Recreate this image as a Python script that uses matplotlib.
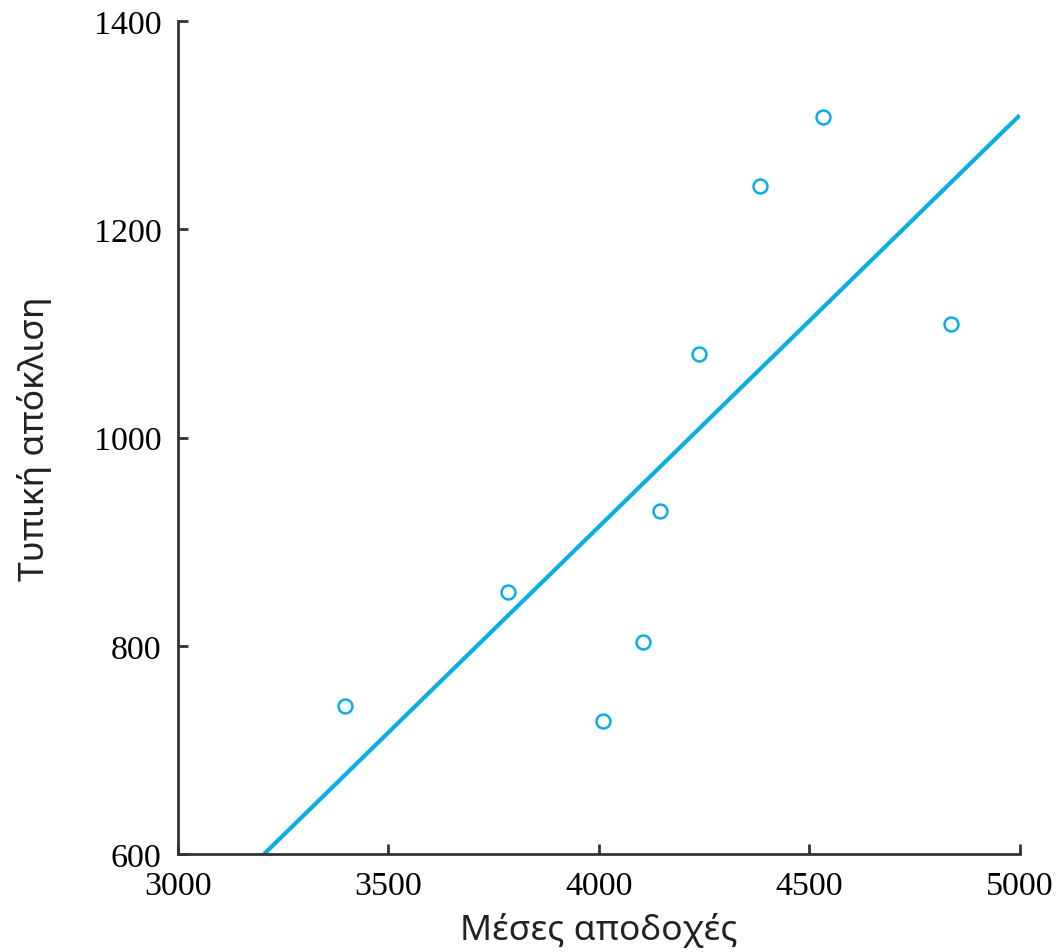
import numpy as np
import matplotlib.pyplot as plt

# mean income vs standard deviation
earnings = [3397, 3784, 4010, 4104, 4145, 4238, 4382, 4532, 4836]
std_dev = [742, 852, 728, 804, 929, 1080, 1242, 1308, 1109]
x_ticks = [3000, 3500, 4000, 4500, 5000]
y_ticks = [600, 800, 1000, 1200, 1400]

blue = '#0aaee6'

fig = plt.figure(figsize=(10.6, 9.53), dpi=100)
ax = fig.add_axes([0.168, 0.1028, 0.794, 0.874])

# least squares fit line
slope, intercept = np.polyfit(earnings, std_dev, 1)
x0 = (600 - intercept) / slope
xs = np.array([x0, 5000])
ax.plot(xs, slope * xs + intercept, color=blue, linewidth=3, solid_capstyle='butt', zorder=2)

ax.plot(earnings, std_dev, 'o', markersize=10, markerfacecolor='white',
        markeredgecolor=blue, markeredgewidth=1.8, linestyle='none', zorder=3)

ax.set_xlim(3000, 5000)
ax.set_ylim(600, 1400)
ax.set_xticks(x_ticks)
ax.set_yticks(y_ticks)

for s in ['top', 'right']:
    ax.spines[s].set_visible(False)
for s in ['left', 'bottom']:
    ax.spines[s].set_color('#333333')
    ax.spines[s].set_linewidth(2)

ax.tick_params(direction='in', length=7, width=2, color='#333333', labelsize=24.5, pad=12)
for lab in ax.get_xticklabels() + ax.get_yticklabels():
    lab.set_family('Liberation Serif')

ax.set_xlabel('Μέσες αποδοχές', fontsize=25.5, family='Noto Sans', labelpad=8, color='#222222')
ax.set_ylabel('Τυπική απόκλιση', fontsize=25.5, family='Noto Sans', labelpad=30, color='#222222')

fig.savefig('out.png', dpi=100)
